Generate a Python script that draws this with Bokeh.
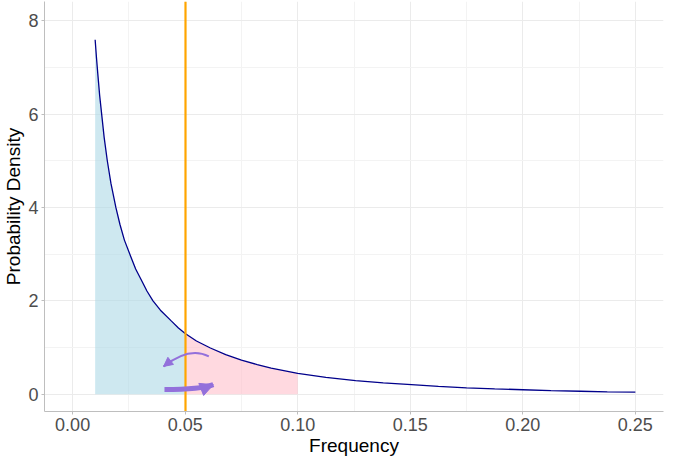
from bokeh.plotting import figure
from bokeh.models import FixedTicker, NumeralTickFormatter, Arrow, NormalHead
from bokeh.embed import file_html
from bokeh.resources import INLINE

# ---- data ----
freq = [0.0100, 0.0106, 0.0112, 0.0120, 0.0130, 0.0140, 0.0154, 0.0170, 0.0192,
        0.0210, 0.0230, 0.0258, 0.0280, 0.0308, 0.0330, 0.0357, 0.0390, 0.0438,
        0.0470, 0.0500, 0.0550, 0.0612, 0.0680, 0.0750, 0.0820, 0.0882, 0.1000,
        0.1125, 0.1257, 0.1380, 0.1505, 0.1625, 0.1750, 0.1875, 0.2000, 0.2125,
        0.2256, 0.2375, 0.2500]
density = [7.59, 7.20, 6.85, 6.40, 5.95, 5.50, 5.00, 4.52, 4.00,
           3.64, 3.30, 2.95, 2.68, 2.42, 2.21, 2.00, 1.80, 1.57,
           1.42, 1.30, 1.14, 0.99, 0.85, 0.73, 0.635, 0.56, 0.445,
           0.36, 0.29, 0.243, 0.205, 0.168, 0.137, 0.115, 0.096, 0.079,
           0.064, 0.052, 0.043]
threshold = 0.05
upper_limit = 0.10

x_ticks = [0.00, 0.05, 0.10, 0.15, 0.20, 0.25]
x_minor = [0.025, 0.075, 0.125, 0.175, 0.225]
y_ticks = [0, 2, 4, 6, 8]
y_minor = [1, 3, 5, 7]

# annotation arrows: start, control, end
thin_arrow = dict(x0=0.0605, y0=0.81, cx=0.0519, cy=1.03, x1=0.0404, y1=0.595)
thick_arrow = dict(x0=0.0408, y0=0.10, cx=0.0570, cy=0.10, x1=0.0625, y1=0.205)

# ---- figure ----
p = figure(width=669, height=458, x_range=(-0.0125, 0.2625), y_range=(-0.37, 8.41),
           output_backend="svg", toolbar_location=None,
           min_border_left=0, min_border_right=6, min_border_top=1, min_border_bottom=0)
p.outline_line_color = None
p.background_fill_color = "white"

blue_x = [f for f in freq if f <= threshold]
blue_y = [d for f, d in zip(freq, density) if f <= threshold]
pink_x = [f for f in freq if threshold <= f <= upper_limit]
pink_y = [d for f, d in zip(freq, density) if threshold <= f <= upper_limit]

p.varea(x=blue_x, y1=[0] * len(blue_x), y2=blue_y, fill_color="#ADD8E6", fill_alpha=0.6)
p.varea(x=pink_x, y1=[0] * len(pink_x), y2=pink_y, fill_color="#FFC0CB", fill_alpha=0.6)
p.line(freq, density, line_color="#00008B", line_width=1.3)
p.vspan(x=[threshold], line_color="#FFA500", line_width=2.2)

purple = "#9370DB"
for a, w, hs in ((thin_arrow, 2, 9), (thick_arrow, 5, 13)):
    p.quadratic(x0=[a["x0"]], y0=[a["y0"]], x1=[a["x1"]], y1=[a["y1"]],
                cx=[a["cx"]], cy=[a["cy"]], line_color=purple, line_width=w)
    sx = a["x1"] + 0.2 * (a["cx"] - a["x1"])
    sy = a["y1"] + 0.2 * (a["cy"] - a["y1"])
    p.add_layout(Arrow(end=NormalHead(size=hs, fill_color=purple, line_color=purple, line_width=1),
                       x_start=sx, y_start=sy, x_end=a["x1"], y_end=a["y1"],
                       line_color=purple, line_width=w))

# ---- axes & grid ----
p.xaxis.ticker = FixedTicker(ticks=x_ticks, minor_ticks=x_minor)
p.yaxis.ticker = FixedTicker(ticks=y_ticks, minor_ticks=y_minor)
p.xaxis.formatter = NumeralTickFormatter(format="0.00")
p.xaxis.axis_label = "Frequency"
p.yaxis.axis_label = "Probability Density"

for ax in (p.xaxis, p.yaxis):
    ax.axis_line_color = "#BEBEBE"
    ax.axis_line_width = 1
    ax.major_tick_line_color = "#BEBEBE"
    ax.major_tick_in = 0
    ax.major_tick_out = 3
    ax.minor_tick_line_color = None
    ax.major_label_text_font = "Liberation Sans"
    ax.major_label_text_font_size = "18px"
    ax.major_label_text_color = "#4D4D4D"
    ax.major_label_standoff = 2
    ax.axis_label_text_font = "Liberation Sans"
    ax.axis_label_text_font_size = "19px"
    ax.axis_label_text_font_style = "normal"
    ax.axis_label_text_color = "black"
    ax.axis_label_standoff = 1

for g in (p.xgrid, p.ygrid):
    g.grid_line_color = "#EBEBEB"
    g.grid_line_width = 1
    g.minor_grid_line_color = "#F3F3F3"
    g.minor_grid_line_width = 1

open("out.html", "w").write(file_html(p, INLINE))
